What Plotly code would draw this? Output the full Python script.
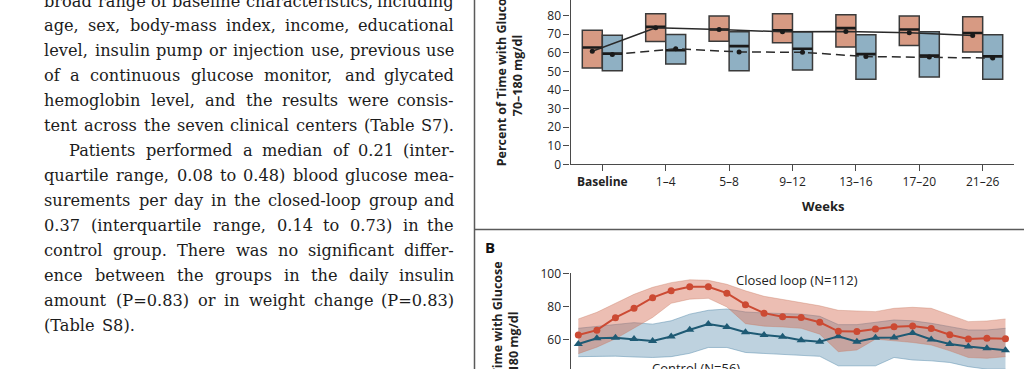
import glob
import os
import struct

import plotly.graph_objects as go

W, H = 1024, 369

# ---------------- data: panel A (box summaries by period) ----------------
weeks = ["Baseline", "1–4", "5–8", "9–12", "13–16", "17–20", "21–26"]
cl_q1 = [51.9, 66.1, 66.3, 65.4, 63.2, 63.9, 60.5]
cl_q3 = [72.2, 81.1, 79.8, 81.1, 80.5, 79.8, 79.4]
cl_med = [62.9, 74.0, 72.6, 72.2, 73.3, 72.6, 70.7]
cl_mean = [60.9, 73.5, 72.6, 71.3, 71.5, 70.8, 69.3]
ct_q1 = [50.3, 54.0, 50.3, 50.8, 45.8, 47.0, 45.8]
ct_q3 = [69.5, 69.9, 71.4, 71.4, 69.7, 71.3, 69.7]
ct_med = [59.6, 61.4, 63.6, 62.2, 59.3, 58.5, 58.1]
ct_mean = [59.1, 62.2, 60.5, 60.3, 58.0, 57.7, 57.2]
yticks_a = [0, 10, 20, 30, 40, 50, 60, 70, 80]

# ---------------- data: panel B (hourly profile) ----------------
hours = list(range(24))
cl_line = [63.0, 65.9, 73.4, 79.0, 85.4, 89.5, 91.9, 91.9, 88.1, 81.2, 76.1, 74.0,
           73.5, 70.6, 65.2, 65.1, 66.6, 68.0, 68.4, 66.9, 63.1, 60.6, 61.1, 60.8]
cl_hi = [72.6, 76.6, 82.0, 87.4, 91.6, 94.4, 96.1, 95.8, 93.4, 89.5, 86.2, 84.4,
         82.6, 80.5, 77.8, 77.3, 77.0, 79.0, 79.6, 79.0, 75.0, 71.0, 71.4, 72.6]
cl_lo = [51.8, 55.7, 60.7, 67.2, 73.5, 82.0, 84.5, 85.0, 79.8, 69.8, 68.3, 67.8,
         67.0, 63.5, 53.0, 54.0, 60.5, 59.5, 58.5, 57.0, 53.5, 49.5, 49.0, 50.0]
ct_line = [57.6, 61.0, 61.4, 60.6, 59.4, 62.1, 66.1, 69.6, 67.8, 64.6, 63.0, 61.9,
           59.9, 59.0, 62.2, 58.9, 61.4, 61.5, 64.2, 60.3, 57.6, 56.1, 55.0, 53.9]
ct_hi = [67.0, 68.0, 69.0, 70.4, 69.5, 71.5, 75.5, 77.8, 78.6, 76.8, 76.2, 76.0,
         75.5, 74.2, 69.2, 69.2, 70.5, 72.0, 71.5, 70.0, 68.0, 66.0, 66.0, 67.0]
ct_lo = [50.0, 50.3, 50.3, 49.8, 49.5, 50.0, 52.0, 55.5, 55.5, 52.5, 52.0, 51.5,
         51.0, 50.2, 44.5, 44.5, 44.5, 49.5, 48.0, 47.5, 46.5, 44.0, 42.5, 42.5]
yticks_b = [60, 80, 100]

# ---------------- body text (left column) ----------------
body_lines = [
    "broad range of baseline characteristics, including",
    "age, sex, body-mass index, income, educational",
    "level, insulin pump or injection use, previous use",
    "of a continuous glucose monitor, and glycated",
    "hemoglobin level, and the results were consis-",
    "tent across the seven clinical centers (Table S7).",
    "Patients performed a median of 0.21 (inter-",
    "quartile range, 0.08 to 0.48) blood glucose mea-",
    "surements per day in the closed-loop group and",
    "0.37 (interquartile range, 0.14 to 0.73) in the",
    "control group. There was no significant differ-",
    "ence between the groups in the daily insulin",
    "amount (P=0.83) or in weight change (P=0.83)",
    "(Table S8).",
]
indented_line = 6
ragged_lines = {13}


def px(x):
    return x / W


def py(y):
    return 1 - y / H


# ---------- font metrics (for justified body text) ----------
def make_measurer(family_file):
    paths = []
    for d in ("/usr/share/fonts", "/usr/local/share/fonts", os.path.expanduser("~/.fonts")):
        paths += glob.glob(os.path.join(d, "**", family_file), recursive=True)
    if not paths:
        return None
    try:
        data = open(paths[0], "rb").read()
        ntab = struct.unpack(">H", data[4:6])[0]
        tabs = {}
        for i in range(ntab):
            tag, _, off, ln = struct.unpack(">4sIII", data[12 + 16 * i:28 + 16 * i])
            tabs[tag.decode("latin-1")] = off
        upem = struct.unpack(">H", data[tabs["head"] + 18:tabs["head"] + 20])[0]
        nhm = struct.unpack(">H", data[tabs["hhea"] + 34:tabs["hhea"] + 36])[0]
        hm = tabs["hmtx"]
        adv = [struct.unpack(">H", data[hm + 4 * i:hm + 4 * i + 2])[0] for i in range(nhm)]
        cm = tabs["cmap"]
        nsub = struct.unpack(">H", data[cm + 2:cm + 4])[0]
        sub = None
        for i in range(nsub):
            pid, eid, off = struct.unpack(">HHI", data[cm + 4 + 8 * i:cm + 12 + 8 * i])
            fmt = struct.unpack(">H", data[cm + off:cm + off + 2])[0]
            if fmt == 4 and pid in (0, 3):
                sub = cm + off
                if pid == 3 and eid == 1:
                    break
        if sub is None:
            return None
        o = sub
        segx2 = struct.unpack(">H", data[o + 6:o + 8])[0]
        seg = segx2 // 2
        ends = struct.unpack(">%dH" % seg, data[o + 14:o + 14 + segx2])
        starts = struct.unpack(">%dH" % seg, data[o + 16 + segx2:o + 16 + 2 * segx2])
        deltas = struct.unpack(">%dh" % seg, data[o + 16 + 2 * segx2:o + 16 + 3 * segx2])
        rpos = o + 16 + 3 * segx2
        roffs = struct.unpack(">%dH" % seg, data[rpos:rpos + segx2])

        def glyph(ch):
            cp = ord(ch)
            for k in range(seg):
                if starts[k] <= cp <= ends[k]:
                    if roffs[k] == 0:
                        return (cp + deltas[k]) & 0xFFFF
                    addr = rpos + 2 * k + roffs[k] + 2 * (cp - starts[k])
                    g = struct.unpack(">H", data[addr:addr + 2])[0]
                    return (g + deltas[k]) & 0xFFFF if g else 0
            return 0

        def measure(s, size):
            tot = 0
            for ch in s:
                g = glyph(ch)
                tot += adv[g] if g < len(adv) else adv[-1]
            return tot * size / upem * 1.008
        return measure
    except Exception:
        return None


BODY_FONT = "DejaVu Serif"
BODY_SIZE = 16.2
measure = make_measurer("DejaVuSerif.ttf")
if measure is None:
    def measure(s, size):
        return sum(0.318 if c == " " else 0.56 for c in s) * size

SANS = "Open Sans"
INK = "#222222"
AXC = "#4a4a4a"

fig = go.Figure()

# ---------- Panel A ----------
off = 0.158
bw = 0.315
xa = list(range(len(weeks)))
x_cl = [i - off for i in xa]
x_ct = [i + off for i in xa]

fig.add_trace(go.Bar(
    x=x_cl, y=[b - a for a, b in zip(cl_q1, cl_q3)], base=cl_q1, width=bw,
    marker=dict(color="#D79A83", line=dict(color="#3a3a3a", width=1.5)),
    xaxis="x", yaxis="y"))
fig.add_trace(go.Bar(
    x=x_ct, y=[b - a for a, b in zip(ct_q1, ct_q3)], base=ct_q1, width=bw,
    marker=dict(color="#8FB0C3", line=dict(color="#3a3a3a", width=1.5)),
    xaxis="x", yaxis="y"))
for xs, med in ((x_cl, cl_med), (x_ct, ct_med)):
    fig.add_trace(go.Scatter(
        x=xs, y=med, mode="markers",
        marker=dict(symbol="line-ew", size=14, line=dict(width=2.6, color="#1a1a1a")),
        xaxis="x", yaxis="y"))
fig.add_trace(go.Scatter(
    x=x_cl, y=cl_mean, mode="lines+markers",
    line=dict(color="#2a2a2a", width=1.5),
    marker=dict(size=5, color="#1a1a1a"), xaxis="x", yaxis="y"))
fig.add_trace(go.Scatter(
    x=x_ct, y=ct_mean, mode="lines+markers",
    line=dict(color="#2a2a2a", width=1.5, dash="9px,5px"),
    marker=dict(size=5, color="#1a1a1a"), xaxis="x", yaxis="y"))

# ---------- Panel B ----------
fig.add_trace(go.Scatter(
    x=hours, y=ct_lo, mode="lines",
    line=dict(color="rgba(95,145,175,0.65)", width=0.8),
    xaxis="x2", yaxis="y2"))
fig.add_trace(go.Scatter(
    x=hours, y=ct_hi, mode="lines", fill="tonexty",
    fillcolor="rgba(110,155,185,0.45)",
    line=dict(color="rgba(95,145,175,0.65)", width=0.8),
    xaxis="x2", yaxis="y2"))
fig.add_trace(go.Scatter(
    x=hours, y=cl_lo, mode="lines",
    line=dict(color="rgba(200,120,95,0.45)", width=0.8),
    xaxis="x2", yaxis="y2"))
fig.add_trace(go.Scatter(
    x=hours, y=cl_hi, mode="lines", fill="tonexty",
    fillcolor="rgba(210,100,75,0.42)",
    line=dict(color="rgba(200,120,95,0.45)", width=0.8),
    xaxis="x2", yaxis="y2"))
fig.add_trace(go.Scatter(
    x=hours, y=ct_line, mode="lines+markers",
    line=dict(color="#1E5A74", width=2),
    marker=dict(symbol="triangle-up", size=8, color="#1E5A74"),
    xaxis="x2", yaxis="y2"))
fig.add_trace(go.Scatter(
    x=hours, y=cl_line, mode="lines+markers",
    line=dict(color="#CC4A33", width=2),
    marker=dict(symbol="circle", size=7, color="#CC4A33"),
    xaxis="x2", yaxis="y2"))

# ---------- axes ----------
x_dom = [px(570.6), px(1014.4)]
ya_bottom = 164.3
ya_scale = 1.8575
yb_top = 273.3
yb_scale = 1.667

tickfont = dict(family=SANS, size=12, color=INK)
ticktext_a = ["<b>" + weeks[0] + "</b>"] + weeks[1:]

fig.update_layout(
    width=W, height=H,
    margin=dict(l=0, r=0, t=0, b=0, pad=0, autoexpand=False),
    paper_bgcolor="white", plot_bgcolor="white",
    showlegend=False, barmode="overlay",
    xaxis=dict(domain=x_dom, range=[-0.5, 6.5], anchor="y",
               tickvals=xa, ticktext=ticktext_a, tickfont=tickfont,
               showline=True, linecolor=AXC, linewidth=1.3,
               ticks="outside", ticklen=6, tickcolor=AXC, tickwidth=1.2,
               showgrid=False, zeroline=False, fixedrange=True, automargin=False),
    yaxis=dict(domain=[py(ya_bottom), 1], range=[0, ya_bottom / ya_scale],
               anchor="x", tickvals=yticks_a, tickfont=tickfont,
               showline=True, linecolor=AXC, linewidth=1.3,
               ticks="outside", ticklen=6, tickcolor=AXC, tickwidth=1.2,
               showgrid=False, zeroline=False, fixedrange=True, automargin=False),
    xaxis2=dict(domain=x_dom, range=[-0.415, 23.48], anchor="y2",
                visible=False, fixedrange=True, automargin=False),
    yaxis2=dict(domain=[0, py(yb_top)],
                range=[100 - (H - yb_top) / yb_scale, 100],
                anchor="x2", tickvals=yticks_b, tickfont=tickfont,
                showline=True, linecolor=AXC, linewidth=1.3,
                ticks="outside", ticklen=6, tickcolor=AXC, tickwidth=1.2,
                showgrid=False, zeroline=False, fixedrange=True, automargin=False),
)

ann = []
# ---------- justified body text, word by word ----------
COL_LEFT, COL_RIGHT, INDENT = 43.3, 455.0, 25.0
body_font = dict(family=BODY_FONT, size=BODY_SIZE, color="#1c1c1c")
space_w = measure(" ", BODY_SIZE)
for i, line in enumerate(body_lines):
    yline = py(1.0 + 24.95 * i)
    left = COL_LEFT + (INDENT if i == indented_line else 0.0)
    words = line.split(" ")
    widths = [measure(w, BODY_SIZE) for w in words]
    gaps = len(words) - 1
    justify = not (i in ragged_lines or gaps == 0)
    gap = space_w
    if justify:
        gap = (COL_RIGHT - left - sum(widths)) / gaps
        if gap < 0.55 * space_w or gap > 4.0 * space_w:
            gap = space_w
            justify = False
    xcur = left
    for k, (w, wd) in enumerate(zip(words, widths)):
        if justify and k == len(words) - 1:
            ann.append(dict(text=w, xref="paper", yref="paper", x=px(COL_RIGHT),
                            xanchor="right", y=yline, yanchor="middle",
                            showarrow=False, borderpad=0, font=body_font))
        else:
            ann.append(dict(text=w, xref="paper", yref="paper", x=px(xcur),
                            xanchor="left", y=yline, yanchor="middle",
                            showarrow=False, borderpad=0, font=body_font))
        xcur += wd + gap

# panel A labels
ann.append(dict(text="<b>Percent of Time with Glucose</b><br><b>70–180 mg/dl</b>",
                xref="paper", yref="paper", x=px(509.5), y=py(75.8),
                xanchor="center", yanchor="middle",
                textangle=-90, showarrow=False,
                font=dict(family=SANS, size=12.5, color=INK)))
ann.append(dict(text="<b>Weeks</b>", xref="paper", yref="paper",
                x=px(823), y=py(205.5), xanchor="center", yanchor="middle",
                showarrow=False, font=dict(family=SANS, size=13, color=INK)))
ann.append(dict(text="90", xref="paper", yref="y", x=px(562), xanchor="right",
                y=90, yanchor="middle", showarrow=False, font=tickfont))

# panel B labels
ann.append(dict(text="<b>B</b>", xref="paper", yref="paper",
                x=px(490), y=py(247), xanchor="center", yanchor="middle",
                showarrow=False, font=dict(family=SANS, size=15, color="#111111")))
ann.append(dict(text="<b>Percent of Time with Glucose</b><br><b>70–180 mg/dl</b>",
                xref="paper", yref="paper", x=px(505), y=py(352),
                xanchor="center", yanchor="middle",
                textangle=-90, showarrow=False,
                font=dict(family=SANS, size=12.5, color=INK)))
ann.append(dict(text="Closed loop (N=112)", xref="paper", yref="paper",
                x=px(797), y=py(280), xanchor="center", yanchor="middle",
                showarrow=False, font=dict(family=SANS, size=13, color=INK)))
ann.append(dict(text="Control (N=56)", xref="paper", yref="paper",
                x=px(695.5), y=py(357), xanchor="center", yanchor="top",
                showarrow=False, font=dict(family=SANS, size=13, color=INK)))
fig.update_layout(annotations=ann)

# page dividers
fig.update_layout(shapes=[
    dict(type="line", xref="paper", yref="paper", x0=px(474.5), x1=px(474.5),
         y0=0, y1=1, line=dict(color="#5a5a5a", width=1.5)),
    dict(type="line", xref="paper", yref="paper", x0=px(474.5), x1=1,
         y0=py(229.5), y1=py(229.5), line=dict(color="#5a5a5a", width=1.5)),
])

fig.write_html("out.html", config={"displayModeBar": False},
               post_script="document.body.style.margin='0';document.body.style.overflow='hidden';")
